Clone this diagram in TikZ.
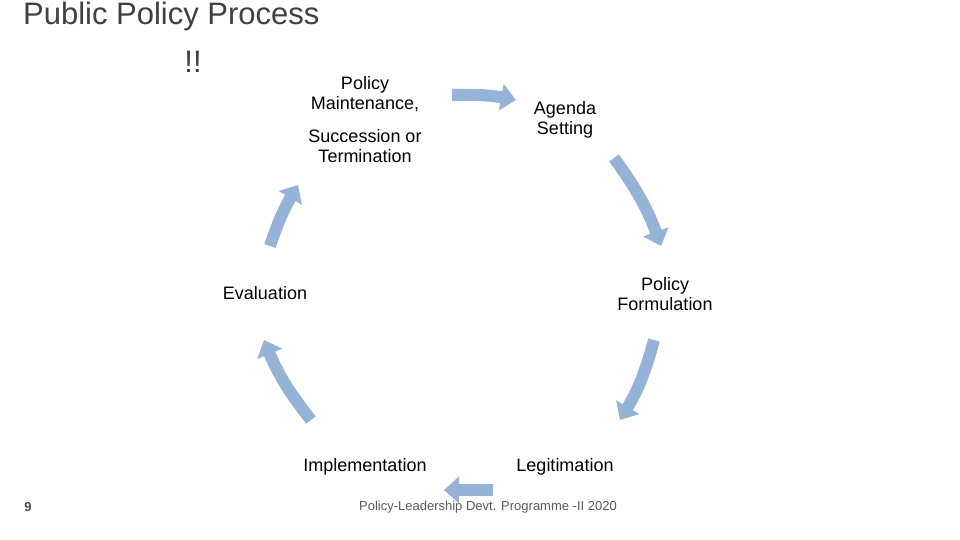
\documentclass[tikz,border=0pt]{standalone}
\usepackage{fontspec}
\setmainfont{Liberation Sans}
\usetikzlibrary{arrows.meta}
\definecolor{ab}{HTML}{95B3D7}
\begin{document}
\begin{tikzpicture}[x=1pt,y=-1pt,
  lbl/.style={font=\fontsize{18}{20}\selectfont,align=center,inner sep=0pt},
  barrow/.style={draw=ab,line width=12pt,-{Triangle[width=26pt,length=15pt]}}]
\useasboundingbox[fill=white] (0,0) rectangle (960,540);
\node[anchor=west,inner sep=0pt,text=black!75,font=\fontsize{31}{33}\selectfont] (t) at (23,16) {Public Policy Process};
\node[inner sep=0pt,text=black!75,font=\fontsize{31}{33}\selectfont] (t2) at (193,62) {!!};
\node[lbl] (pm) at (365,94) {Policy\\Maintenance,};
\node[lbl] (st) at (365,146) {Succession or\\Termination};
\node[lbl] (as) at (565,120) {Agenda\\Setting};
\node[lbl] (pf) at (665,294) {Policy\\Formulation};
\node[lbl] (ev) at (265,293) {Evaluation};
\node[lbl] (im) at (365,467) {Implementation};
\node[lbl] (lg) at (565,467) {Legitimation};
\node[inner sep=0pt,text=black!65,font=\fontsize{13}{15}\selectfont] (ft) at (488,507) {Policy-Leadership Devt. Programme -II 2020};
\node[inner sep=0pt,text=black!70,font=\bfseries\fontsize{13}{15}\selectfont] (n9) at (28,507) {9};
\coordinate (a1) at (452,95); \coordinate (b1) at (516,100);
\coordinate (a2) at (614,158); \coordinate (b2) at (661,246);
\coordinate (a3) at (654,340); \coordinate (b3) at (620,420);
\coordinate (a4) at (493,490); \coordinate (b4) at (444,490);
\coordinate (a5) at (311,420); \coordinate (b5) at (264,340);
\coordinate (a6) at (270,246); \coordinate (b6) at (298,185);
\draw[barrow] (a1) to[bend left=6] (b1);
\draw[barrow] (a2) to[bend left=8] (b2);
\draw[barrow] (a3) to[bend left=8] (b3);
\draw[barrow] (a4) -- (b4);
\draw[barrow] (a5) to[bend left=8] (b5);
\draw[barrow] (a6) to[bend left=6] (b6);
\end{tikzpicture}
\end{document}
